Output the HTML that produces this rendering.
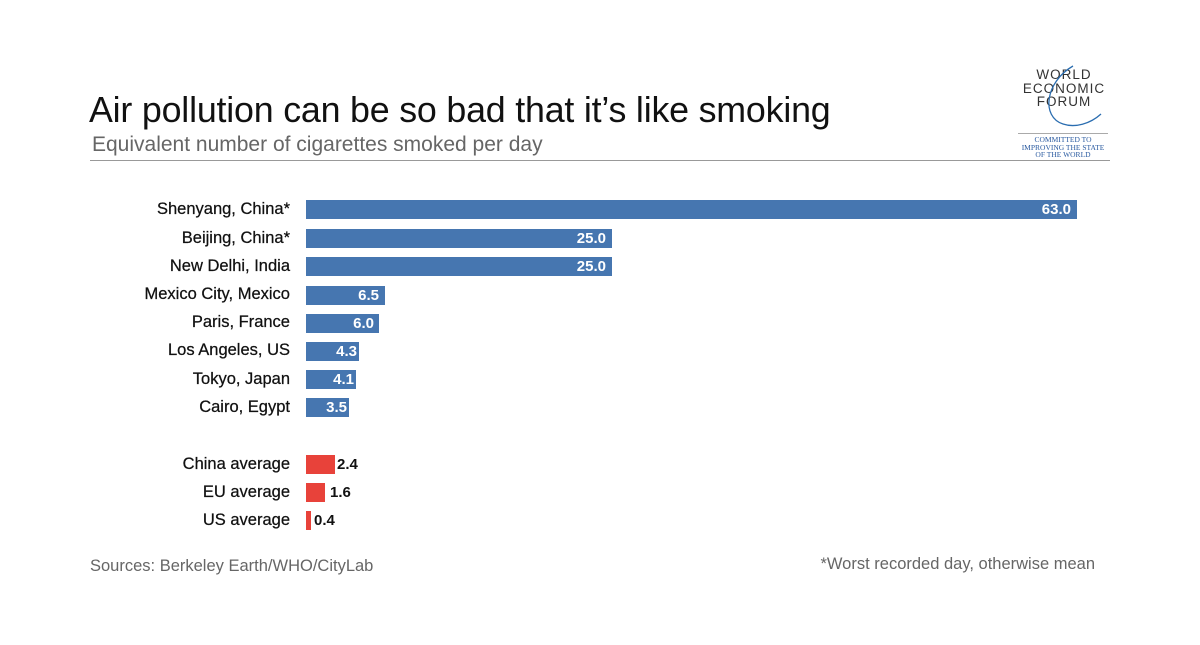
<!DOCTYPE html>
<html><head><meta charset="utf-8"><style>
body{margin:0;width:1200px;height:645px;background:#fff;font-family:"Liberation Sans",Arial,sans-serif;position:relative;overflow:hidden}
.a{position:absolute;white-space:nowrap}
.lbl{position:absolute;right:910px;font-size:16.5px;color:#111;line-height:20px;-webkit-text-stroke:0.25px #111;margin-top:-1px}
.bar{position:absolute;left:306px;height:19px}
.v{position:absolute;font-size:15px;font-weight:bold;line-height:19px}
</style></head><body>
<div class="a" style="left:89px;top:90px;font-size:35.8px;color:#111;letter-spacing:-0.2px">Air pollution can be so bad that it’s like smoking</div>
<div class="a" style="left:92px;top:133px;font-size:21px;color:#666">Equivalent number of cigarettes smoked per day</div>
<div class="a" style="left:90px;top:160px;width:1020px;height:1px;background:#999"></div>
<div class="a" style="left:1020px;top:68px;width:88px;text-align:center;font-size:13.5px;line-height:13.5px;color:#333;letter-spacing:1px">WORLD<br>ECONOMIC<br>FORUM</div>
<svg class="a" style="left:1015px;top:62px" width="100" height="70"><path d="M58 4 C30 20 26 55 48 62 C60 66 75 62 86 52" fill="none" stroke="#2a6db0" stroke-width="1.3"/></svg>
<div class="a" style="left:1018px;top:133px;width:90px;height:1px;background:#aaa"></div>
<div class="a" style="left:1015px;top:136px;width:96px;text-align:center;font-family:'Liberation Serif',serif;font-size:7.5px;line-height:7.5px;color:#2a5aa0">COMMITTED TO<br>IMPROVING THE STATE<br>OF THE WORLD</div>

<div class="lbl" style="top:200px">Shenyang, China*</div><div class="bar" style="top:200px;width:771px;background:#4676b0"></div><div class="v" style="top:200px;left:306px;width:765px;text-align:right;color:#fff">63.0</div>
<div class="lbl" style="top:229px">Beijing, China*</div><div class="bar" style="top:229px;width:306px;background:#4676b0"></div><div class="v" style="top:229px;left:306px;width:300px;text-align:right;color:#fff">25.0</div>
<div class="lbl" style="top:257px">New Delhi, India</div><div class="bar" style="top:257px;width:306px;background:#4676b0"></div><div class="v" style="top:257px;left:306px;width:300px;text-align:right;color:#fff">25.0</div>
<div class="lbl" style="top:285px">Mexico City, Mexico</div><div class="bar" style="top:286px;width:79px;background:#4676b0"></div><div class="v" style="top:286px;left:306px;width:73px;text-align:right;color:#fff">6.5</div>
<div class="lbl" style="top:313px">Paris, France</div><div class="bar" style="top:314px;width:73px;background:#4676b0"></div><div class="v" style="top:314px;left:306px;width:68px;text-align:right;color:#fff">6.0</div>
<div class="lbl" style="top:341px">Los Angeles, US</div><div class="bar" style="top:342px;width:53px;background:#4676b0"></div><div class="v" style="top:342px;left:306px;width:51px;text-align:right;color:#fff">4.3</div>
<div class="lbl" style="top:370px">Tokyo, Japan</div><div class="bar" style="top:370px;width:50px;background:#4676b0"></div><div class="v" style="top:370px;left:306px;width:48px;text-align:right;color:#fff">4.1</div>
<div class="lbl" style="top:398px">Cairo, Egypt</div><div class="bar" style="top:398px;width:43px;background:#4676b0"></div><div class="v" style="top:398px;left:306px;width:41px;text-align:right;color:#fff">3.5</div>

<div class="lbl" style="top:455px">China average</div><div class="bar" style="top:455px;width:29px;background:#e8423a"></div><div class="v" style="top:455px;left:337px;color:#111">2.4</div>
<div class="lbl" style="top:483px">EU average</div><div class="bar" style="top:483px;width:19px;background:#e8423a"></div><div class="v" style="top:483px;left:330px;color:#111">1.6</div>
<div class="lbl" style="top:511px">US average</div><div class="bar" style="top:511px;width:5px;background:#e8423a"></div><div class="v" style="top:511px;left:314px;color:#111">0.4</div>

<div class="a" style="left:90px;top:557px;font-size:16.5px;color:#666">Sources: Berkeley Earth/WHO/CityLab</div>
<div class="a" style="right:105px;top:555px;font-size:16.5px;color:#666">*Worst recorded day, otherwise mean</div>
</body></html>
